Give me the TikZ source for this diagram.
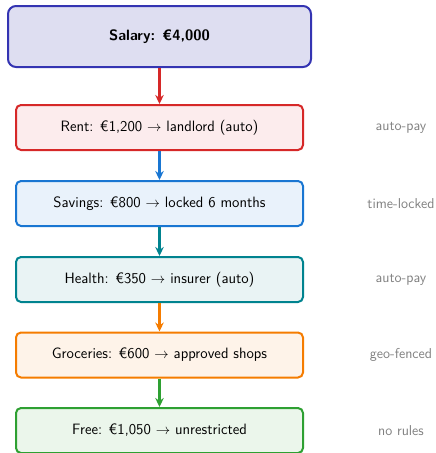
\documentclass[tikz,border=0pt]{standalone}
\usetikzlibrary{arrows.meta}
\definecolor{salB}{RGB}{52,52,178}
\definecolor{salF}{RGB}{222,222,241}
\definecolor{rentB}{RGB}{214,40,40}
\definecolor{rentF}{RGB}{252,236,237}
\definecolor{savB}{RGB}{25,118,210}
\definecolor{savF}{RGB}{233,242,251}
\definecolor{heaB}{RGB}{0,131,143}
\definecolor{heaF}{RGB}{233,243,244}
\definecolor{groB}{RGB}{245,124,0}
\definecolor{groF}{RGB}{254,243,233}
\definecolor{freB}{RGB}{46,160,50}
\definecolor{freF}{RGB}{235,246,235}
\definecolor{lab}{RGB}{128,128,128}
\tikzset{
  x=1pt,y=1pt,
  box/.style={draw, line width=2pt, rounded corners=5pt, minimum width=287pt, minimum height=45pt, font=\sffamily\fontsize{15}{17}\selectfont, inner sep=0pt},
  topbox/.style={box, rounded corners=8pt, minimum width=303pt, minimum height=61pt, font=\sffamily\bfseries\fontsize{15}{17}\selectfont},
  side/.style={font=\sffamily\fontsize{14.3}{16}\selectfont, text=lab},
  flow/.style={line width=2.2pt, -{Stealth[length=9pt,width=8.5pt]}}
}
\begin{document}
\begin{tikzpicture}
\useasboundingbox (0,0) rectangle (436,-453);
\node[topbox, draw=salB, fill=salF] (sal) at (159.5,-36.5) {Salary: \texteuro4,000};
\node[box, draw=rentB, fill=rentF] (rent) at (159.5,-127.5) {Rent: \texteuro1,200 $\rightarrow$ landlord (auto)};
\node[box, draw=savB, fill=savF] (sav) at (159.5,-203.5) {Savings: \texteuro800 $\rightarrow$ locked 6 months};
\node[box, draw=heaB, fill=heaF] (hea) at (159.5,-279.5) {Health: \texteuro350 $\rightarrow$ insurer (auto)};
\node[box, draw=groB, fill=groF] (gro) at (159.5,-355) {Groceries: \texteuro600 $\rightarrow$ approved shops};
\node[box, draw=freB, fill=freF] (fre) at (159.5,-430.5) {Free: \texteuro1,050 $\rightarrow$ unrestricted};
\node[side] (l1) at (401,-127.5) {auto-pay};
\node[side] (l2) at (401,-203.5) {time-locked};
\node[side] (l3) at (401,-279.5) {auto-pay};
\node[side] (l4) at (401,-355) {geo-fenced};
\node[side] (l5) at (401,-430.5) {no rules};
\draw[flow, rentB] (sal) -- (rent);
\draw[flow, savB] (rent) -- (sav);
\draw[flow, heaB] (sav) -- (hea);
\draw[flow, groB] (hea) -- (gro);
\draw[flow, freB] (gro) -- (fre);
\end{tikzpicture}
\end{document}
